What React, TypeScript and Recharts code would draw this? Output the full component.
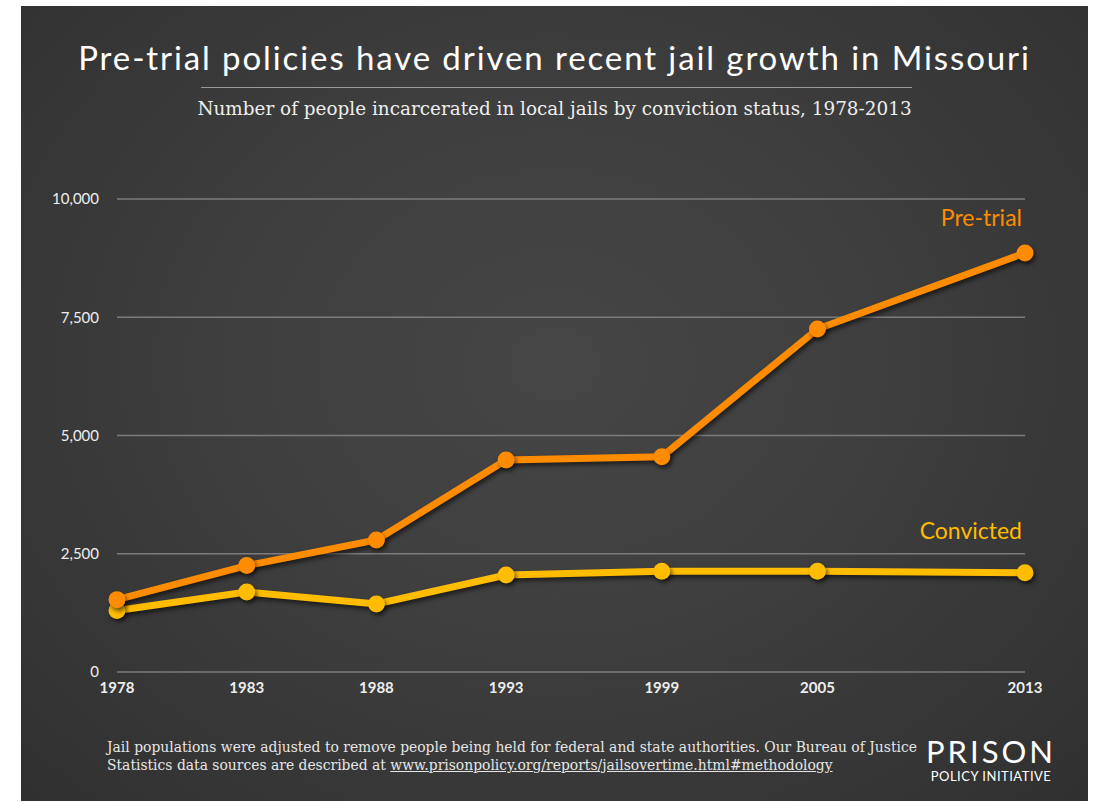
import { LineChart, Line, XAxis, YAxis, CartesianGrid, LabelList } from 'recharts';

// ── Data ────────────────────────────────────────────────────────────────────

const years = [1978, 1983, 1988, 1993, 1999, 2005, 2013];
const pretrial = [1530, 2250, 2790, 4480, 4550, 7250, 8860];
const convicted = [1300, 1690, 1440, 2050, 2130, 2130, 2100];
const yTicks = [0, 2500, 5000, 7500, 10000];

const data = years.map((year, i) => ({ year, pretrial: pretrial[i], convicted: convicted[i] }));

const ORANGE = '#ff8c00';
const YELLOW = '#ffbc00';
const SANS = "Lato, 'Open Sans', sans-serif";
const SERIF = "'DejaVu Serif', 'Liberation Serif', serif";

const W = 1067;
const H = 795;

function EndLabel({ x, y, index, text, color, dy }: any) {
  if (index !== years.length - 1) return null;
  return (
    <text x={x - 3} y={y + dy} textAnchor="end" fill={color} fontSize={23} fontFamily={SANS}>
      {text}
    </text>
  );
}

export default function App() {
  return (
    <div style={{
      position: 'absolute', left: 21, top: 6, width: W, height: H,
      background: 'radial-gradient(ellipse at 50% 45%, #464646 0%, #3e3e3e 45%, #303030 100%)',
      overflow: 'hidden',
    }}>
      <style>{`.recharts-line .recharts-curve, .recharts-line-dots { filter: drop-shadow(2px 3px 2px rgba(0,0,0,0.55)); }`}</style>

      {/* Title block */}
      <div style={{
        position: 'absolute', left: 0, top: 33, width: W, textAlign: 'center',
        color: '#fff', fontFamily: SANS, fontSize: 33, letterSpacing: '1.9px', lineHeight: '36px',
      }}>
        Pre-trial policies have driven recent jail growth in Missouri
      </div>
      <div style={{ position: 'absolute', left: 180, top: 81, width: 711, height: 1, background: '#9a9a9a' }} />
      <div style={{
        position: 'absolute', left: 0, top: 92, width: W, textAlign: 'center',
        color: '#eee', fontFamily: SERIF, fontSize: 18.4, lineHeight: '22px',
      }}>
        Number of people incarcerated in local jails by conviction status, 1978-2013
      </div>

      <LineChart width={W} height={H} data={data} margin={{ top: 193, right: 63, bottom: 99, left: 0 }}>
        <CartesianGrid horizontal vertical={false} stroke="#7c7c7c" strokeWidth={1.5} />
        <XAxis
          dataKey="year" type="number" domain={[1978, 2013]} ticks={years}
          axisLine={false} tickLine={false} tickSize={0} tickMargin={10}
          tick={{ fill: '#eee', fontSize: 15, fontFamily: SANS, fontWeight: 700 }}
        />
        <YAxis
          domain={[0, 10000]} ticks={yTicks} width={96}
          axisLine={false} tickLine={false} tickSize={0} tickMargin={18}
          tickFormatter={(v: number) => v.toLocaleString('en-US')}
          tick={{ fill: '#eee', fontSize: 15, fontFamily: SANS }}
        />
        <Line
          dataKey="convicted" stroke={YELLOW} strokeWidth={7} isAnimationActive={false}
          dot={{ r: 8.5, fill: YELLOW, stroke: 'none' }} activeDot={false}
        >
          <LabelList dataKey="convicted" content={(p: any) => <EndLabel {...p} text="Convicted" color={YELLOW} dy={-34} />} />
        </Line>
        <Line
          dataKey="pretrial" stroke={ORANGE} strokeWidth={7} isAnimationActive={false}
          dot={{ r: 8.5, fill: ORANGE, stroke: 'none' }} activeDot={false}
        >
          <LabelList dataKey="pretrial" content={(p: any) => <EndLabel {...p} text="Pre-trial" color={ORANGE} dy={-27} />} />
        </Line>
      </LineChart>

      {/* Footnote */}
      <div style={{
        position: 'absolute', left: 86, top: 732, color: '#e6e6e6',
        fontFamily: SERIF, fontSize: 13.9, lineHeight: '18px',
      }}>
        Jail populations were adjusted to remove people being held for federal and state authorities. Our Bureau of Justice<br />
        Statistics data sources are described at <span style={{ textDecoration: 'underline' }}>www.prisonpolicy.org/reports/jailsovertime.html#methodology</span>
      </div>

      {/* Logo */}
      <div style={{ position: 'absolute', left: 905, top: 729, color: '#fff', fontFamily: SANS, textAlign: 'center' }}>
        <div style={{ fontSize: 31, letterSpacing: '3px', lineHeight: '32px' }}>PRISON</div>
        <div style={{ fontSize: 13, letterSpacing: '0.5px', lineHeight: '16px', marginTop: 1 }}>POLICY INITIATIVE</div>
      </div>
    </div>
  );
}
